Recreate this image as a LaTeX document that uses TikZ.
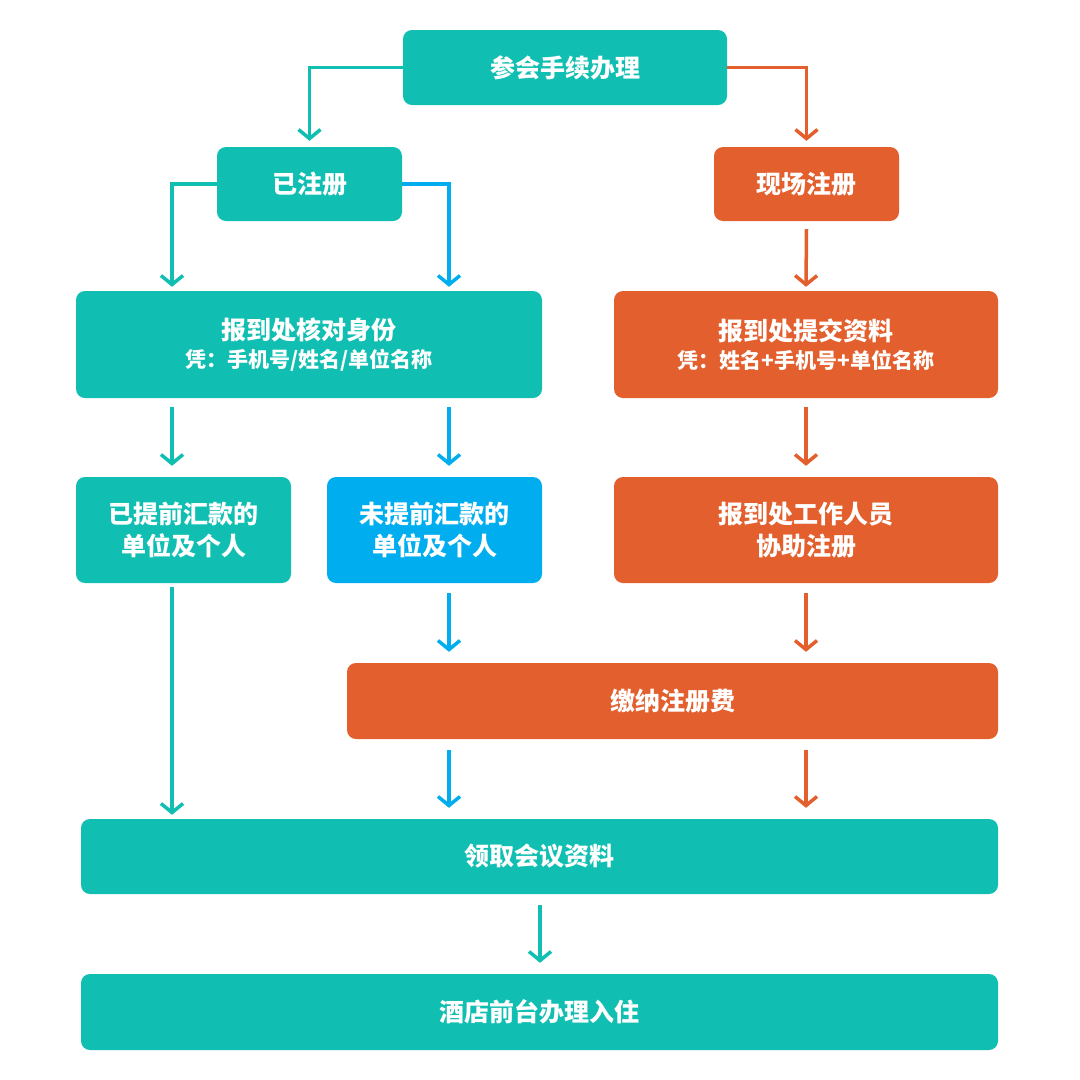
\documentclass[tikz,border=0pt]{standalone}
\usepackage{fontspec}
\setmainfont{Noto Sans CJK SC}
\usetikzlibrary{arrows.meta,calc}
\definecolor{teal}{HTML}{10BFB2}
\definecolor{org}{HTML}{E35F2D}
\definecolor{blu}{HTML}{00AEEF}
\begin{document}
\begin{tikzpicture}[x=1pt,y=-1pt,
 box/.style={rounded corners=9pt,text=white,font=\fontsize{25}{32}\selectfont\bfseries,align=center,inner sep=0pt},
 arr/.style={line width=3.5pt,-{Straight Barb[length=9pt,width=22pt,line width=3.5pt]}}]
\useasboundingbox (0,0) rectangle (1080,1080);
\newcommand\bx[7]{\node[box,fill=#6,minimum width={#3-#2},minimum height={#5-#4}] (#1) at ({(#2+#3)/2},{(#4+#5)/2}) {#7};}
\bx{top}{403}{727}{30}{105}{teal}{参会手续办理}
\bx{reg}{217}{402}{147}{221}{teal}{已注册}
\bx{site}{714}{899}{147}{221}{org}{现场注册}
\bx{chk}{76}{542}{291}{398}{teal}{报到处核对身份\\[-4pt]{\fontsize{21}{26}\selectfont 凭：手机号/姓名/单位名称}}
\bx{sub}{614}{998}{291}{398}{org}{报到处提交资料\\[-4pt]{\fontsize{21}{26}\selectfont 凭：姓名+手机号+单位名称}}
\bx{paid}{76}{291}{477}{583}{teal}{已提前汇款的\\单位及个人}
\bx{unpaid}{327}{542}{477}{583}{blu}{未提前汇款的\\单位及个人}
\bx{staff}{614}{998}{477}{583}{org}{报到处工作人员\\协助注册}
\bx{fee}{347}{998}{663}{739}{org}{缴纳注册费}
\bx{get}{81}{998}{819}{894}{teal}{领取会议资料}
\bx{hotel}{81}{998}{974}{1050}{teal}{酒店前台办理入住}
\coordinate (xa) at (172,0); \coordinate (xb) at (449,0); \coordinate (xc) at (806,0);
\draw[arr,teal] (top.west) -| ($(reg.north)+(0,-6)$);
\draw[arr,org] (top.east) -| ($(site.north)+(0,-6)$);
\draw[arr,teal] (reg.west) -| ($(chk.north-|xa)+(0,-4)$);
\draw[arr,blu] (reg.east) -| ($(chk.north-|xb)+(0,-4)$);
\draw[arr,org] ($(site.south)+(0,8)$) -- ($(sub.north)+(0,-4)$);
\draw[arr,teal] ($(chk.south-|xa)+(0,9)$) -- ($(paid.north-|xa)+(0,-11)$);
\draw[arr,blu] ($(chk.south-|xb)+(0,9)$) -- ($(unpaid.north-|xb)+(0,-11)$);
\draw[arr,org] ($(sub.south-|xc)+(0,9)$) -- ($(staff.north-|xc)+(0,-11)$);
\draw[arr,teal] ($(paid.south-|xa)+(0,4)$) -- ($(get.north-|xa)+(0,-4)$);
\draw[arr,blu] ($(unpaid.south-|xb)+(0,10)$) -- ($(fee.north-|xb)+(0,-11)$);
\draw[arr,org] ($(staff.south-|xc)+(0,10)$) -- ($(fee.north-|xc)+(0,-11)$);
\draw[arr,blu] ($(fee.south-|xb)+(0,11)$) -- ($(get.north-|xb)+(0,-11)$);
\draw[arr,org] ($(fee.south-|xc)+(0,11)$) -- ($(get.north-|xc)+(0,-11)$);
\draw[arr,teal] ($(get.south-|540,0)+(0,11)$) -- ($(hotel.north-|540,0)+(0,-11)$);
\end{tikzpicture}
\end{document}
